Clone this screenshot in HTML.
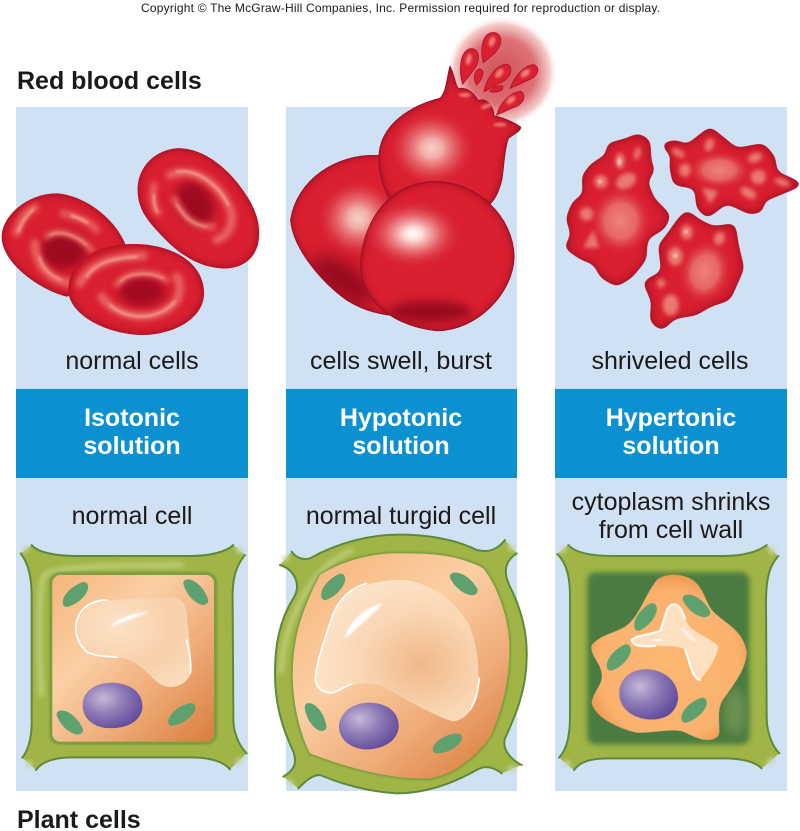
<!DOCTYPE html>
<html><head><meta charset="utf-8"><style>
html,body{margin:0;padding:0;background:#fff}
svg{display:block}
text{font-family:"Liberation Sans",sans-serif;fill:#1a1a1a}
.l{font-size:25px;text-anchor:middle}
.w{font-size:25px;font-weight:bold;text-anchor:middle;fill:#fff}
.h{font-size:25px;font-weight:bold}
</style></head><body>
<svg width="800" height="831" viewBox="0 0 800 831" xmlns="http://www.w3.org/2000/svg">
<defs>
<filter id="z3" x="-50%" y="-50%" width="200%" height="200%" color-interpolation-filters="sRGB"><feGaussianBlur stdDeviation="3"/></filter>
<filter id="z4" x="-50%" y="-50%" width="200%" height="200%" color-interpolation-filters="sRGB"><feGaussianBlur stdDeviation="4"/></filter>
<filter id="z6" x="-50%" y="-50%" width="200%" height="200%" color-interpolation-filters="sRGB"><feGaussianBlur stdDeviation="6"/></filter>
<filter id="z8" x="-50%" y="-50%" width="200%" height="200%" color-interpolation-filters="sRGB"><feGaussianBlur stdDeviation="8"/></filter>
<filter id="z14" x="-60%" y="-60%" width="220%" height="220%" color-interpolation-filters="sRGB"><feGaussianBlur stdDeviation="14"/></filter>
<filter id="z24" x="-80%" y="-80%" width="260%" height="260%" color-interpolation-filters="sRGB"><feGaussianBlur stdDeviation="24"/></filter>
<filter id="inner" x="-10%" y="-10%" width="120%" height="120%" color-interpolation-filters="sRGB">
<feGaussianBlur in="SourceAlpha" stdDeviation="13" result="b"/>
<feFlood flood-color="#8e0a1e" result="f"/>
<feComposite in="f" in2="b" operator="out" result="o"/>
<feComposite in="o" in2="SourceAlpha" operator="in" result="s"/>
<feMerge><feMergeNode in="SourceGraphic"/><feMergeNode in="s"/></feMerge>
</filter>
<filter id="goo" x="-20%" y="-20%" width="140%" height="140%" color-interpolation-filters="sRGB">
<feGaussianBlur in="SourceGraphic" stdDeviation="13" result="b"/>
<feColorMatrix in="b" type="matrix" values="1 0 0 0 0 0 1 0 0 0 0 0 1 0 0 0 0 0 14 -6" result="g"/>
<feGaussianBlur in="g" stdDeviation="14" result="gb"/>
<feFlood flood-color="#8e0a1e" result="f"/>
<feComposite in="f" in2="gb" operator="out" result="o"/>
<feComposite in="o" in2="g" operator="in" result="s"/>
<feMerge><feMergeNode in="g"/><feMergeNode in="s"/></feMerge>
</filter>
<radialGradient id="glow"><stop offset="0" stop-color="#d2505a"/><stop offset=".6" stop-color="#dd7276"/><stop offset=".85" stop-color="#f1bfbc" stop-opacity=".85"/><stop offset="1" stop-color="#fff" stop-opacity="0"/></radialGradient>
<radialGradient id="hl1"><stop offset="0" stop-color="#fff"/><stop offset=".18" stop-color="#fcdcd8"/><stop offset=".55" stop-color="#e76a6e" stop-opacity=".85"/><stop offset="1" stop-color="#d91f30" stop-opacity="0"/></radialGradient>
<radialGradient id="hl2"><stop offset="0" stop-color="#f7cfc8"/><stop offset=".25" stop-color="#f2aca6"/><stop offset=".65" stop-color="#e45c62" stop-opacity=".65"/><stop offset="1" stop-color="#d91f30" stop-opacity="0"/></radialGradient>
<radialGradient id="spot"><stop offset="0" stop-color="#ee8378"/><stop offset=".5" stop-color="#e9736d" stop-opacity=".85"/><stop offset="1" stop-color="#d91f30" stop-opacity="0"/></radialGradient>
<radialGradient id="nuc" cx=".35" cy=".35" r=".75"><stop offset="0" stop-color="#c6b9da"/><stop offset=".45" stop-color="#8f7bb6"/><stop offset="1" stop-color="#5c469a"/></radialGradient>
<linearGradient id="or" x1="0" y1="0" x2="1" y2="1"><stop offset="0" stop-color="#f6b47a"/><stop offset=".35" stop-color="#fad0a6"/><stop offset=".65" stop-color="#efac78"/><stop offset="1" stop-color="#d97d3e"/></linearGradient>
<linearGradient id="or2" x1=".1" y1="0" x2=".9" y2="1"><stop offset="0" stop-color="#f7b57b"/><stop offset=".4" stop-color="#fbcfa4"/><stop offset=".7" stop-color="#efab78"/><stop offset="1" stop-color="#d97d3c"/></linearGradient>
<radialGradient id="vac" cx=".35" cy=".3" r=".85"><stop offset="0" stop-color="#fce3c8"/><stop offset=".6" stop-color="#f8cfa8"/><stop offset="1" stop-color="#fadcbd"/></radialGradient>
<radialGradient id="vac2" cx=".65" cy=".6" r=".7"><stop offset="0" stop-color="#f0b88a"/><stop offset=".55" stop-color="#fad7b4"/><stop offset="1" stop-color="#fde5cd"/></radialGradient>
<radialGradient id="or3" cx=".5" cy=".55" r=".6"><stop offset="0" stop-color="#fdb873"/><stop offset=".75" stop-color="#fbb26f"/><stop offset="1" stop-color="#e88f45"/></radialGradient>
<path id="bean" d="M-44,14C-38,-8 -5,-28 30,-30C46,-28 46,-10 34,2C18,20 -10,30 -32,30C-42,30 -46,22 -44,14Z" fill="#5fa16e"/>
<clipPath id="cFront"><path d="M465,515C590,515 700,620 702,740C700,850 590,962 470,962C350,950 242,880 242,760C250,620 340,515 465,515Z"/></clipPath>
<clipPath id="cBack"><path d="M295,437C170,430 50,510 32,630C40,720 130,820 200,870C240,895 280,910 330,915L500,600L300,430Z"/></clipPath>
</defs>

<rect width="800" height="831" fill="#fff"/>
<rect x="16" y="107" width="232" height="684" fill="#cfe1f3"/>
<rect x="286" y="107" width="231" height="684" fill="#cfe1f3"/>
<rect x="555" y="107" width="232" height="684" fill="#cfe1f3"/>
<rect x="16" y="389" width="232" height="89" fill="#0b90d2"/>
<rect x="286" y="389" width="231" height="89" fill="#0b90d2"/>
<rect x="555" y="389" width="232" height="89" fill="#0b90d2"/>

<text x="141" y="12" font-size="12" textLength="519" lengthAdjust="spacing">Copyright © The McGraw-Hill Companies, Inc. Permission required for reproduction or display.</text>
<text x="17" y="89" class="h">Red blood cells</text>
<text x="17" y="828" class="h">Plant cells</text>
<text x="132" y="369" class="l">normal cells</text>
<text x="401" y="369" class="l">cells swell, burst</text>
<text x="670" y="369" class="l">shriveled cells</text>
<text x="132" y="426" class="w">Isotonic</text>
<text x="132" y="454" class="w">solution</text>
<text x="401" y="426" class="w">Hypotonic</text>
<text x="401" y="454" class="w">solution</text>
<text x="671" y="426" class="w">Hypertonic</text>
<text x="671" y="454" class="w">solution</text>
<text x="132" y="524" class="l">normal cell</text>
<text x="401" y="524" class="l">normal turgid cell</text>
<text x="671" y="510" class="l">cytoplasm shrinks</text>
<text x="671" y="538" class="l">from cell wall</text>

<!-- normal red cells -->
<g transform="translate(0,130) scale(.33333)">
<path filter="url(#inner)" fill="#d91f30" d="M413,180C413,100 480,52 545,55C625,60 700,130 745,205C775,255 785,300 772,350C755,400 710,418 665,415C600,412 540,375 490,322C445,275 413,240 413,180Z"/>
<ellipse cx="585" cy="222" rx="52" ry="70" transform="rotate(-32 585 222)" fill="#9e0a20" filter="url(#z14)"/>
<g fill="none" stroke="#e9635f" stroke-linecap="round" filter="url(#z8)">
<path d="M510,135C590,105 670,170 695,250C700,290 680,320 650,330" stroke-width="26"/>
<path d="M522,205C545,250 575,295 640,290" stroke-width="18"/>
<path d="M462,165C455,200 462,235 475,250" stroke-width="20"/>
</g>
<g fill="none" stroke="#f2a08f" stroke-linecap="round" filter="url(#z4)">
<path d="M530,125C600,115 660,175 685,225" stroke-width="7"/>
<path d="M530,225C550,255 575,285 620,290" stroke-width="5"/>
<path d="M462,195C460,215 465,235 472,245" stroke-width="7"/>
</g>
<path filter="url(#inner)" fill="#d91f30" d="M5,320C5,260 80,190 170,190C250,195 340,260 375,340C380,400 300,470 200,500C120,480 5,400 5,320Z"/>
<ellipse cx="190" cy="362" rx="72" ry="56" fill="#9e0a20" filter="url(#z14)"/>
<g fill="none" stroke="#e9635f" stroke-linecap="round" filter="url(#z8)">
<path d="M140,320C180,290 240,320 275,360" stroke-width="18"/>
<path d="M105,340C105,400 145,450 210,460" stroke-width="26"/>
<path d="M50,310C60,270 80,245 105,232" stroke-width="24"/>
<path d="M190,250C230,258 270,275 290,300" stroke-width="20"/>
</g>
<g fill="none" stroke="#f2a08f" stroke-linecap="round" filter="url(#z4)">
<path d="M150,315C180,300 225,315 260,345" stroke-width="5"/>
<path d="M118,380C125,410 150,440 185,450" stroke-width="6"/>
<path d="M55,305C65,280 80,255 100,238" stroke-width="7"/>
<path d="M215,257C232,262 250,270 262,278" stroke-width="8"/>
</g>
<path filter="url(#inner)" fill="#d91f30" d="M205,480C205,400 280,342 400,342C520,342 612,400 612,490C612,560 530,615 420,615C310,610 205,550 205,480Z"/>
<ellipse cx="425" cy="484" rx="70" ry="44" fill="#a20a22" filter="url(#z14)"/>
<g fill="none" stroke="#e9635f" stroke-linecap="round" filter="url(#z8)">
<path d="M350,465C380,420 460,420 500,450" stroke-width="18"/>
<path d="M305,500C340,560 470,590 530,510C545,480 540,455 530,440" stroke-width="26"/>
<path d="M240,460C270,400 340,378 430,378" stroke-width="26"/>
</g>
<g fill="none" stroke="#f2a08f" stroke-linecap="round" filter="url(#z4)">
<path d="M360,455C385,428 450,425 490,445" stroke-width="5"/>
<path d="M330,525C380,570 470,575 525,515" stroke-width="7"/>
<path d="M260,440C290,395 340,385 410,380" stroke-width="7"/>
</g>
</g>

<!-- bursting cells -->
<circle cx="502" cy="72" r="56" fill="url(#glow)"/>
<g transform="translate(280,10) scale(.33333)">
<g fill="#d91f30" stroke="#b3182b" stroke-width="3">
<path d="M610,158C600,120 605,72 638,68C670,68 668,105 645,128C635,138 620,150 610,158Z"/>
<path d="M548,222C535,180 540,122 573,116C602,116 600,155 582,178C572,192 558,210 548,222Z"/>
<path d="M590,225C578,205 582,182 600,176C614,182 610,205 590,225Z"/>
<path d="M612,245C620,205 650,162 682,163C702,172 692,202 665,216C645,228 628,238 612,245Z"/>
<path d="M690,235C702,205 728,166 762,164C782,174 775,198 745,210C725,220 705,228 690,235Z"/>
<path d="M650,315C660,280 690,246 722,244C740,254 732,282 702,292C682,300 665,308 650,315Z"/>
<path d="M630,245C640,232 655,225 668,228C672,240 655,250 630,245Z"/>
</g>
<g fill="#ef7f78" filter="url(#z4)"><ellipse cx="636" cy="95" rx="9" ry="16" transform="rotate(20 636 95)"/><ellipse cx="566" cy="148" rx="8" ry="17" transform="rotate(15 566 148)"/><ellipse cx="658" cy="190" rx="9" ry="16" transform="rotate(40 658 190)"/><ellipse cx="736" cy="190" rx="9" ry="16" transform="rotate(50 736 190)"/><ellipse cx="693" cy="270" rx="9" ry="16" transform="rotate(50 693 270)"/></g>

<path filter="url(#inner)" fill="#d91f30" stroke="#a9142a" stroke-width="3" d="M295,437C170,430 50,510 32,630C40,720 130,820 200,870C240,895 280,910 330,915L500,600L300,430Z"/>
<g clip-path="url(#cBack)">
<ellipse cx="235" cy="625" rx="125" ry="120" fill="url(#hl2)"/>
<ellipse cx="190" cy="810" rx="110" ry="50" transform="rotate(35 190 810)" fill="#980a1e" filter="url(#z24)"/>
</g>

<path filter="url(#inner)" fill="#d91f30" stroke="#a9142a" stroke-width="3" d="M297,440C300,340 400,285 480,265C500,245 500,205 510,170C522,190 525,225 535,236C555,232 575,240 595,272C620,262 640,290 642,318C665,322 700,335 722,352C720,365 700,372 685,385C672,420 672,470 665,510C655,550 640,575 625,585L330,570C310,530 295,490 297,440Z"/>
<ellipse cx="455" cy="415" rx="130" ry="115" fill="url(#hl2)"/>
<g fill="#ee7f78" filter="url(#z4)"><ellipse cx="555" cy="255" rx="18" ry="6"/><ellipse cx="620" cy="288" rx="18" ry="6" transform="rotate(-20 620 288)"/><ellipse cx="660" cy="344" rx="20" ry="5"/></g>

<path filter="url(#inner)" fill="#d91f30" stroke="#a9142a" stroke-width="3" d="M465,515C590,515 700,620 702,740C700,850 590,962 470,962C350,950 242,880 242,760C250,620 340,515 465,515Z"/>
<g clip-path="url(#cFront)">
<ellipse cx="400" cy="672" rx="150" ry="105" fill="url(#hl1)"/>
<ellipse cx="450" cy="905" rx="125" ry="32" fill="#980a1e" filter="url(#z14)"/>
</g>
</g>

<!-- shriveled cells -->
<g transform="translate(550,115) scale(.33333)">
<polygon filter="url(#goo)" fill="#d91f30" points="265,55 300,75 303,140 315,165 292,200 312,250 362,300 345,340 292,372 288,435 245,488 200,515 152,488 132,448 90,432 42,398 64,360 48,310 68,260 100,238 96,182 125,145 168,120 172,85 225,72"/>
<polygon filter="url(#goo)" fill="#d91f30" points="330,85 380,75 410,90 480,35 530,75 560,100 640,85 675,125 680,170 765,208 700,235 640,260 640,290 600,298 530,265 472,310 440,280 435,220 370,210 358,150 365,125"/>
<polygon filter="url(#goo)" fill="#d91f30" points="410,285 450,315 490,335 555,325 565,390 582,460 540,555 480,575 440,600 375,610 335,648 300,620 305,560 278,500 335,470 325,390 350,360 385,310"/>
<g>
<ellipse cx="212" cy="318" rx="95" ry="105" fill="url(#spot)"/>
<ellipse cx="508" cy="165" rx="95" ry="58" fill="url(#spot)"/>
<ellipse cx="465" cy="470" rx="80" ry="100" transform="rotate(15 465 470)" fill="url(#spot)"/>
</g>
<g fill="#ea7a70" filter="url(#z6)">
<ellipse cx="210" cy="138" rx="14" ry="24"/><ellipse cx="262" cy="115" rx="9" ry="20" transform="rotate(15 262 115)"/>
<ellipse cx="153" cy="200" rx="20" ry="20"/><ellipse cx="228" cy="198" rx="32" ry="22" transform="rotate(-30 228 198)"/>
<ellipse cx="110" cy="297" rx="20" ry="20"/><path d="M130,345L148,398L100,398Z"/>
<ellipse cx="385" cy="114" rx="22" ry="10" transform="rotate(30 385 114)"/><ellipse cx="478" cy="90" rx="13" ry="20" transform="rotate(20 478 90)"/>
<ellipse cx="405" cy="165" rx="17" ry="20"/><ellipse cx="615" cy="128" rx="22" ry="14" transform="rotate(-20 615 128)"/>
<ellipse cx="625" cy="186" rx="22" ry="22"/><ellipse cx="697" cy="202" rx="24" ry="10" transform="rotate(20 697 202)"/>
<path d="M455,218L505,228L480,268Z"/><ellipse cx="595" cy="234" rx="26" ry="14" transform="rotate(30 595 234)"/>
<ellipse cx="410" cy="352" rx="18" ry="22"/><ellipse cx="508" cy="370" rx="16" ry="20" transform="rotate(20 508 370)"/>
<ellipse cx="376" cy="424" rx="22" ry="28"/><ellipse cx="333" cy="505" rx="12" ry="14"/>
<ellipse cx="362" cy="570" rx="24" ry="32"/>
</g>
<g fill="#fbd9d0" filter="url(#z4)"><ellipse cx="208" cy="140" rx="5" ry="11"/><circle cx="150" cy="200" r="5"/><circle cx="408" cy="350" r="5"/><circle cx="376" cy="422" r="6"/></g>
</g>

<!-- isotonic plant cell -->
<g transform="translate(10,530) scale(.33333)">
<path fill="#a0b546" d="M65,45C80,65 130,78 200,78L540,78C600,78 650,65 670,45L705,75C680,105 665,140 668,220L670,560C668,610 690,650 710,670L660,718C640,695 600,682 540,682L190,682C130,682 95,695 78,720L37,683C55,660 67,620 65,560L65,200C65,140 55,100 32,70Z"/>
<path d="M95,500C85,350 85,200 100,140C110,110 300,105 520,105" fill="none" stroke="#d5de9e" stroke-width="9" filter="url(#z8)"/>
<path d="M65,45C80,65 130,78 200,78L540,78C600,78 650,65 670,45M705,75C680,105 665,140 668,220L670,560C668,610 690,650 710,670M660,718C640,695 600,682 540,682L190,682C130,682 95,695 78,720M37,683C55,660 67,620 65,560L65,200C65,140 55,100 32,70" fill="none" stroke="#5c8a3a" stroke-width="6" stroke-linecap="round"/>
<g fill="#c6d3a4" filter="url(#z6)"><ellipse cx="688" cy="60" rx="14" ry="8" transform="rotate(40 688 60)"/><ellipse cx="48" cy="58" rx="13" ry="8" transform="rotate(-40 48 58)"/><ellipse cx="686" cy="693" rx="14" ry="8" transform="rotate(-40 686 693)"/><ellipse cx="58" cy="702" rx="13" ry="8" transform="rotate(40 58 702)"/></g>
<rect x="123" y="131" width="493" height="508" rx="26" fill="none" stroke="#5c8a3a" stroke-width="6" filter="url(#z4)"/>
<rect x="127" y="135" width="485" height="500" rx="24" fill="url(#or)"/>
<path d="M197,295C200,240 235,212 290,210L480,202C520,205 530,225 532,270C538,340 550,400 540,435C525,465 490,480 455,465C420,445 395,395 340,385C290,380 240,385 215,355C200,335 197,315 197,295Z" fill="url(#vac)"/>
<path d="M290,210C235,212 200,240 197,295C197,315 205,340 230,365C255,380 290,378 320,382M530,330C538,370 545,400 541,430" fill="none" stroke="#fff" stroke-width="5" stroke-linecap="round"/>
<path d="M305,288C330,262 370,250 415,245C380,262 340,275 305,288Z" fill="#fff" stroke="#fff" stroke-width="2" filter="url(#z3)"/>
<path d="M218,520C222,480 260,457 310,458C365,462 400,490 397,535C390,580 340,598 290,594C245,590 215,560 218,520Z" fill="url(#nuc)"/>
<use href="#bean" transform="translate(197,193) rotate(-15)"/>
<use href="#bean" transform="translate(558,187) rotate(75)"/>
<use href="#bean" transform="translate(180,578) rotate(70)"/>
<use href="#bean" transform="translate(516,553) rotate(-8)"/>
</g>

<!-- hypotonic plant cell -->
<g transform="translate(270,530) scale(.33333)">
<path fill="#a0b546" d="M65,65C80,85 100,90 120,85C200,40 300,12 395,14C480,15 560,30 620,60C660,70 685,55 705,30L740,70C710,90 695,120 720,170C755,240 772,310 770,380C770,480 735,560 705,625C695,660 725,690 755,705L695,730C670,710 645,705 620,720C540,765 460,790 380,790C290,785 210,760 150,735C125,735 105,755 85,775L40,740C65,725 85,705 70,665C35,590 15,520 15,430C15,340 30,270 70,205C95,165 75,120 30,105Z"/>
<path d="M32,430C38,330 68,240 125,160C160,110 210,75 250,60" fill="none" stroke="#d5de9e" stroke-width="9" filter="url(#z8)"/>
<path d="M65,65C80,85 100,90 120,85C200,40 300,12 395,14C480,15 560,30 620,60C660,70 685,55 705,30M740,70C710,90 695,120 720,170C755,240 772,310 770,380C770,480 735,560 705,625C695,660 725,690 755,705M695,730C670,710 645,705 620,720C540,765 460,790 380,790C290,785 210,760 150,735C125,735 105,755 85,775M40,740C65,725 85,705 70,665C35,590 15,520 15,430C15,340 30,270 70,205C95,165 75,120 30,105" fill="none" stroke="#5c8a3a" stroke-width="6" stroke-linecap="round"/>
<g fill="#c6d3a4" filter="url(#z6)"><ellipse cx="722" cy="52" rx="14" ry="8" transform="rotate(40 722 52)"/><ellipse cx="48" cy="85" rx="13" ry="8" transform="rotate(-40 48 85)"/><ellipse cx="725" cy="716" rx="14" ry="8" transform="rotate(-20 725 716)"/><ellipse cx="62" cy="758" rx="13" ry="8" transform="rotate(40 62 758)"/></g>
<path d="M150,135C230,85 320,68 400,70C470,70 560,72 640,115C680,165 715,260 718,340C722,450 690,560 660,620C620,680 550,735 480,745C380,750 250,720 120,670C90,610 68,520 68,430C70,330 90,250 150,135Z" fill="none" stroke="#5c8a3a" stroke-width="6" filter="url(#z4)"/>
<path d="M150,135C230,85 320,68 400,70C470,70 560,72 640,115C680,165 715,260 718,340C722,450 690,560 660,620C620,680 550,735 480,745C380,750 250,720 120,670C90,610 68,520 68,430C70,330 90,250 150,135Z" fill="url(#or2)"/>
<path d="M135,450C140,380 165,310 210,210C250,170 320,148 400,150C470,155 560,210 600,290C622,350 632,430 622,500C605,550 570,580 540,572C480,550 410,510 340,470C290,445 220,470 180,490C150,488 135,475 135,450Z" fill="url(#vac2)"/>
<path d="M290,160C240,175 210,205 190,250C170,310 140,390 136,445C138,480 165,490 190,488C210,480 225,470 245,462M628,445C625,480 618,510 600,540" fill="none" stroke="#fff" stroke-width="5" stroke-linecap="round"/>
<path d="M228,320C240,275 285,235 335,222C300,255 265,290 228,320Z" fill="#fff" stroke="#fff" stroke-width="4" filter="url(#z3)"/>
<path d="M207,585C212,545 250,518 300,518C350,520 388,545 386,592C380,640 330,660 280,658C235,652 205,625 207,585Z" fill="url(#nuc)"/>
<use href="#bean" transform="translate(190,170) rotate(-20)"/>
<use href="#bean" transform="translate(582,162) rotate(65)"/>
<use href="#bean" transform="translate(137,562) rotate(85)"/>
<use href="#bean" transform="translate(533,640) rotate(0)"/>
</g>

<!-- hypertonic plant cell -->
<g transform="translate(550,530) scale(.33333)">
<path fill="#a0b546" d="M55,45C75,68 120,78 190,78L520,78C580,78 625,65 650,45L685,78C660,105 648,140 648,220L650,560C650,610 668,650 688,670L635,715C615,695 580,685 520,685L180,685C120,685 90,695 72,720L27,683C50,660 60,620 60,560L60,200C60,140 50,100 22,72Z"/>
<path d="M55,45C75,68 120,78 190,78L520,78C580,78 625,65 650,45M685,78C660,105 648,140 648,220L650,560C650,610 668,650 688,670M635,715C615,695 580,685 520,685L180,685C120,685 90,695 72,720M27,683C50,660 60,620 60,560L60,200C60,140 50,100 22,72" fill="none" stroke="#5c8a3a" stroke-width="6" stroke-linecap="round"/>
<g fill="#c6d3a4" filter="url(#z6)"><ellipse cx="665" cy="62" rx="14" ry="8" transform="rotate(40 665 62)"/><ellipse cx="40" cy="60" rx="13" ry="8" transform="rotate(-40 40 60)"/><ellipse cx="662" cy="693" rx="14" ry="8" transform="rotate(-40 662 693)"/><ellipse cx="52" cy="700" rx="13" ry="8" transform="rotate(40 52 700)"/></g>
<rect x="112" y="127" width="486" height="516" rx="24" fill="#4a7b40" filter="url(#z8)"/>
<ellipse cx="555" cy="545" rx="34" ry="70" fill="#6b9150" filter="url(#z14)"/>
<path d="M125,345C150,315 190,310 225,290C265,265 285,195 320,150C345,130 385,130 420,145C465,170 465,220 490,245C525,280 580,300 590,365C590,420 545,470 515,515C495,560 520,610 500,622C475,640 440,625 400,605C360,595 310,610 260,608C200,595 135,560 125,520C130,480 160,465 155,430C150,395 118,375 125,345Z" fill="url(#or3)"/>
<path d="M245,330C275,312 305,312 330,303C345,270 345,235 365,224C392,218 400,255 415,285C440,315 495,330 505,352C495,395 470,425 450,450C425,445 420,395 405,358C380,345 345,350 315,348C285,350 250,352 245,330Z" fill="#fde0bf"/>
<path d="M330,303C345,270 345,235 365,224C385,218 395,240 405,265M315,348C285,350 250,352 245,330C255,318 290,315 330,303M450,450C425,445 420,395 405,358" fill="none" stroke="#fff" stroke-width="6" stroke-linecap="round"/>
<path d="M395,295L435,335L410,310Z" fill="#fff" stroke="#fff" stroke-width="6" filter="url(#z3)"/>
<ellipse cx="322" cy="330" rx="18" ry="3" fill="#fff"/>
<path d="M208,485C210,445 245,415 295,418C350,422 388,460 384,510C375,555 340,572 290,568C240,560 205,530 208,485Z" fill="url(#nuc)"/>
<use href="#bean" transform="translate(440,228) rotate(65)"/>
<use href="#bean" transform="translate(287,260) rotate(-25)"/>
<use href="#bean" transform="translate(207,382) rotate(-20)"/>
<use href="#bean" transform="translate(433,540) rotate(-15)"/>
</g>
</svg>
</body></html>
